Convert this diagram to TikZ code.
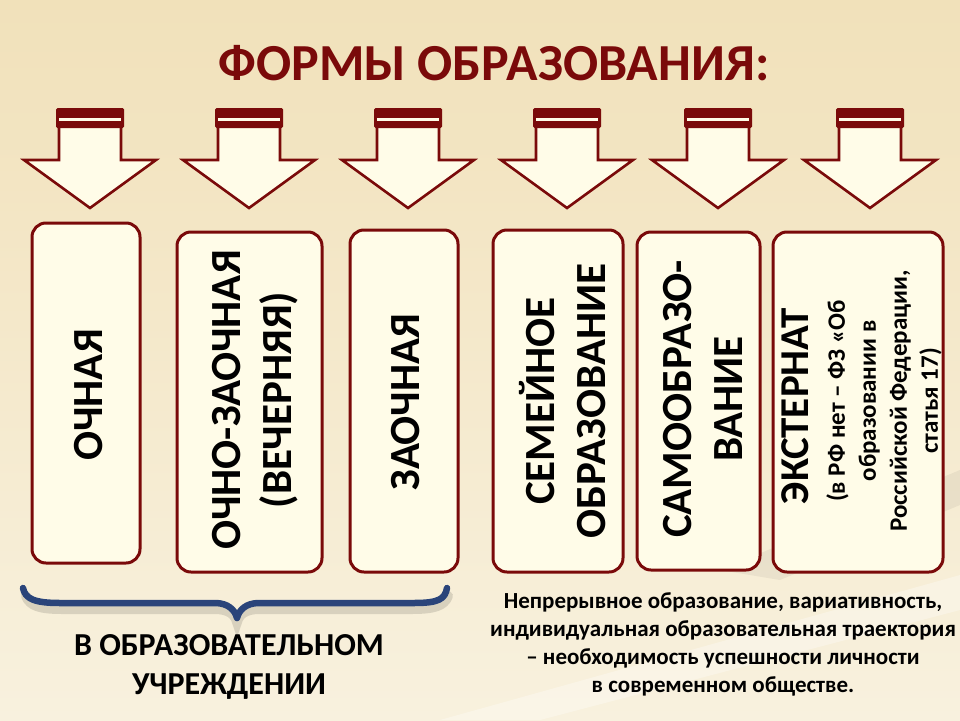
\documentclass[tikz,border=0pt]{standalone}
\usepackage{fontspec}
\setmainfont{Carlito}
\definecolor{dred}{RGB}{122,10,10}
\definecolor{cream}{RGB}{255,252,232}
\definecolor{braceblue}{RGB}{42,68,122}
\definecolor{bgtop}{RGB}{241,225,186}
\definecolor{bgbot}{RGB}{248,241,222}
\begin{document}
\begin{tikzpicture}[x=1pt,y=-1pt,
  formbox/.style={draw=dred, line width=3pt, fill=cream, rounded corners=14pt, inner sep=0pt},
  bigtext/.style={rotate=90, align=center, font=\fontsize{43}{51}\selectfont\bfseries, text=black},
  formarrow/.pic={
    \draw[dred, fill=cream, line width=2.6pt, line join=miter, miter limit=10]
      (-31,126) -- (-31,160) -- (-66,160) -- (0,208) -- (66,160) -- (31,160) -- (31,126);
    \fill[dred, rounded corners=1.5pt] (-34,108) rectangle (34,128);
    \fill[cream] (-31,118) rectangle (31,121);
  }]
\useasboundingbox (0,0) rectangle (960,720);
% background
\shade[top color=bgtop, bottom color=bgbot] (0,0) rectangle (960,720);
\fill[white, opacity=0.30] (440,720) -- (960,575) -- (960,610) -- (540,720) -- cycle;
\fill[black, opacity=0.05] (720,570) -- (960,470) -- (960,505) -- (780,580) -- cycle;

% title
\node[font=\fontsize{52}{58}\selectfont\bfseries, text=dred] (title) at (494,63) {ФОРМЫ ОБРАЗОВАНИЯ:};

% arrows
\pic (a1) at (90,0) {formarrow};
\pic (a2) at (249,0) {formarrow};
\pic (a3) at (408,0) {formarrow};
\pic (a4) at (567,0) {formarrow};
\pic (a5) at (718,0) {formarrow};
\pic (a6) at (870,0) {formarrow};

% boxes
\node[formbox, minimum width=108pt, minimum height=340pt] (b1) at (86,393) {};
\node[formbox, minimum width=145pt, minimum height=340pt] (b2) at (249.5,402) {};
\node[formbox, minimum width=108pt, minimum height=342pt] (b3) at (404,401) {};
\node[formbox, minimum width=130pt, minimum height=342pt] (b4) at (558,401) {};
\node[formbox, minimum width=123pt, minimum height=338pt] (b5) at (698.5,401) {};
\node[formbox, minimum width=170pt, minimum height=340pt] (b6) at (858,402) {};

% box texts
\node[bigtext] (t1) at (89,395) {ОЧНАЯ};
\node[bigtext] (t2) at (255,400) {ОЧНО-ЗАОЧНАЯ\\(ВЕЧЕРНЯЯ)};
\node[bigtext] (t3) at (406,402) {ЗАОЧНАЯ};
\node[bigtext] (t4) at (563,401) {СЕМЕЙНОЕ\\ОБРАЗОВАНИЕ};
\node[bigtext] (t5) at (703,399) {САМООБРАЗО-\\ВАНИЕ};
\node[rotate=90, font=\fontsize{41}{46}\selectfont\bfseries] (t6) at (795,406) {ЭКСТЕРНАТ};
\node[rotate=90, align=center, font=\fontsize{25}{31}\selectfont\bfseries] (t6s) at (884,401)
  {(в РФ нет – ФЗ «Об\\образовании в\\Российской Федерации,\\статья 17)};

% brace
\coordinate (brL) at (23,588);
\coordinate (brR) at (447,588);
\coordinate (brM) at (237,618);
\draw[black, opacity=0.12, line width=10pt, line cap=round]
  (26,596) .. controls (30,606) and (40,609) .. (62,609) -- (215,609)
  .. controls (228,609) and (235,614) .. (237,622)
  .. controls (239,614) and (246,609) .. (259,609) -- (412,609)
  .. controls (434,609) and (444,606) .. (448,596);
\draw[braceblue, line width=6.5pt, line cap=round, line join=round]
  (brL) .. controls (25,599) and (35,603) .. (60,603) -- (215,603)
  .. controls (228,603) and (235,610) .. (brM)
  .. controls (239,610) and (246,603) .. (259,603) -- (414,603)
  .. controls (439,603) and (445,599) .. (brR);

% bottom texts
\node[align=center, font=\fontsize{32}{39}\selectfont\bfseries] (inst) at (229,667)
  {В ОБРАЗОВАТЕЛЬНОМ\\УЧРЕЖДЕНИИ};
\node[align=center, font=\fontsize{23}{28}\selectfont\bfseries] (note) at (723,644)
  {Непрерывное образование, вариативность,\\индивидуальная образовательная траектория\\– необходимость успешности личности\\в современном обществе.};
\end{tikzpicture}
\end{document}
